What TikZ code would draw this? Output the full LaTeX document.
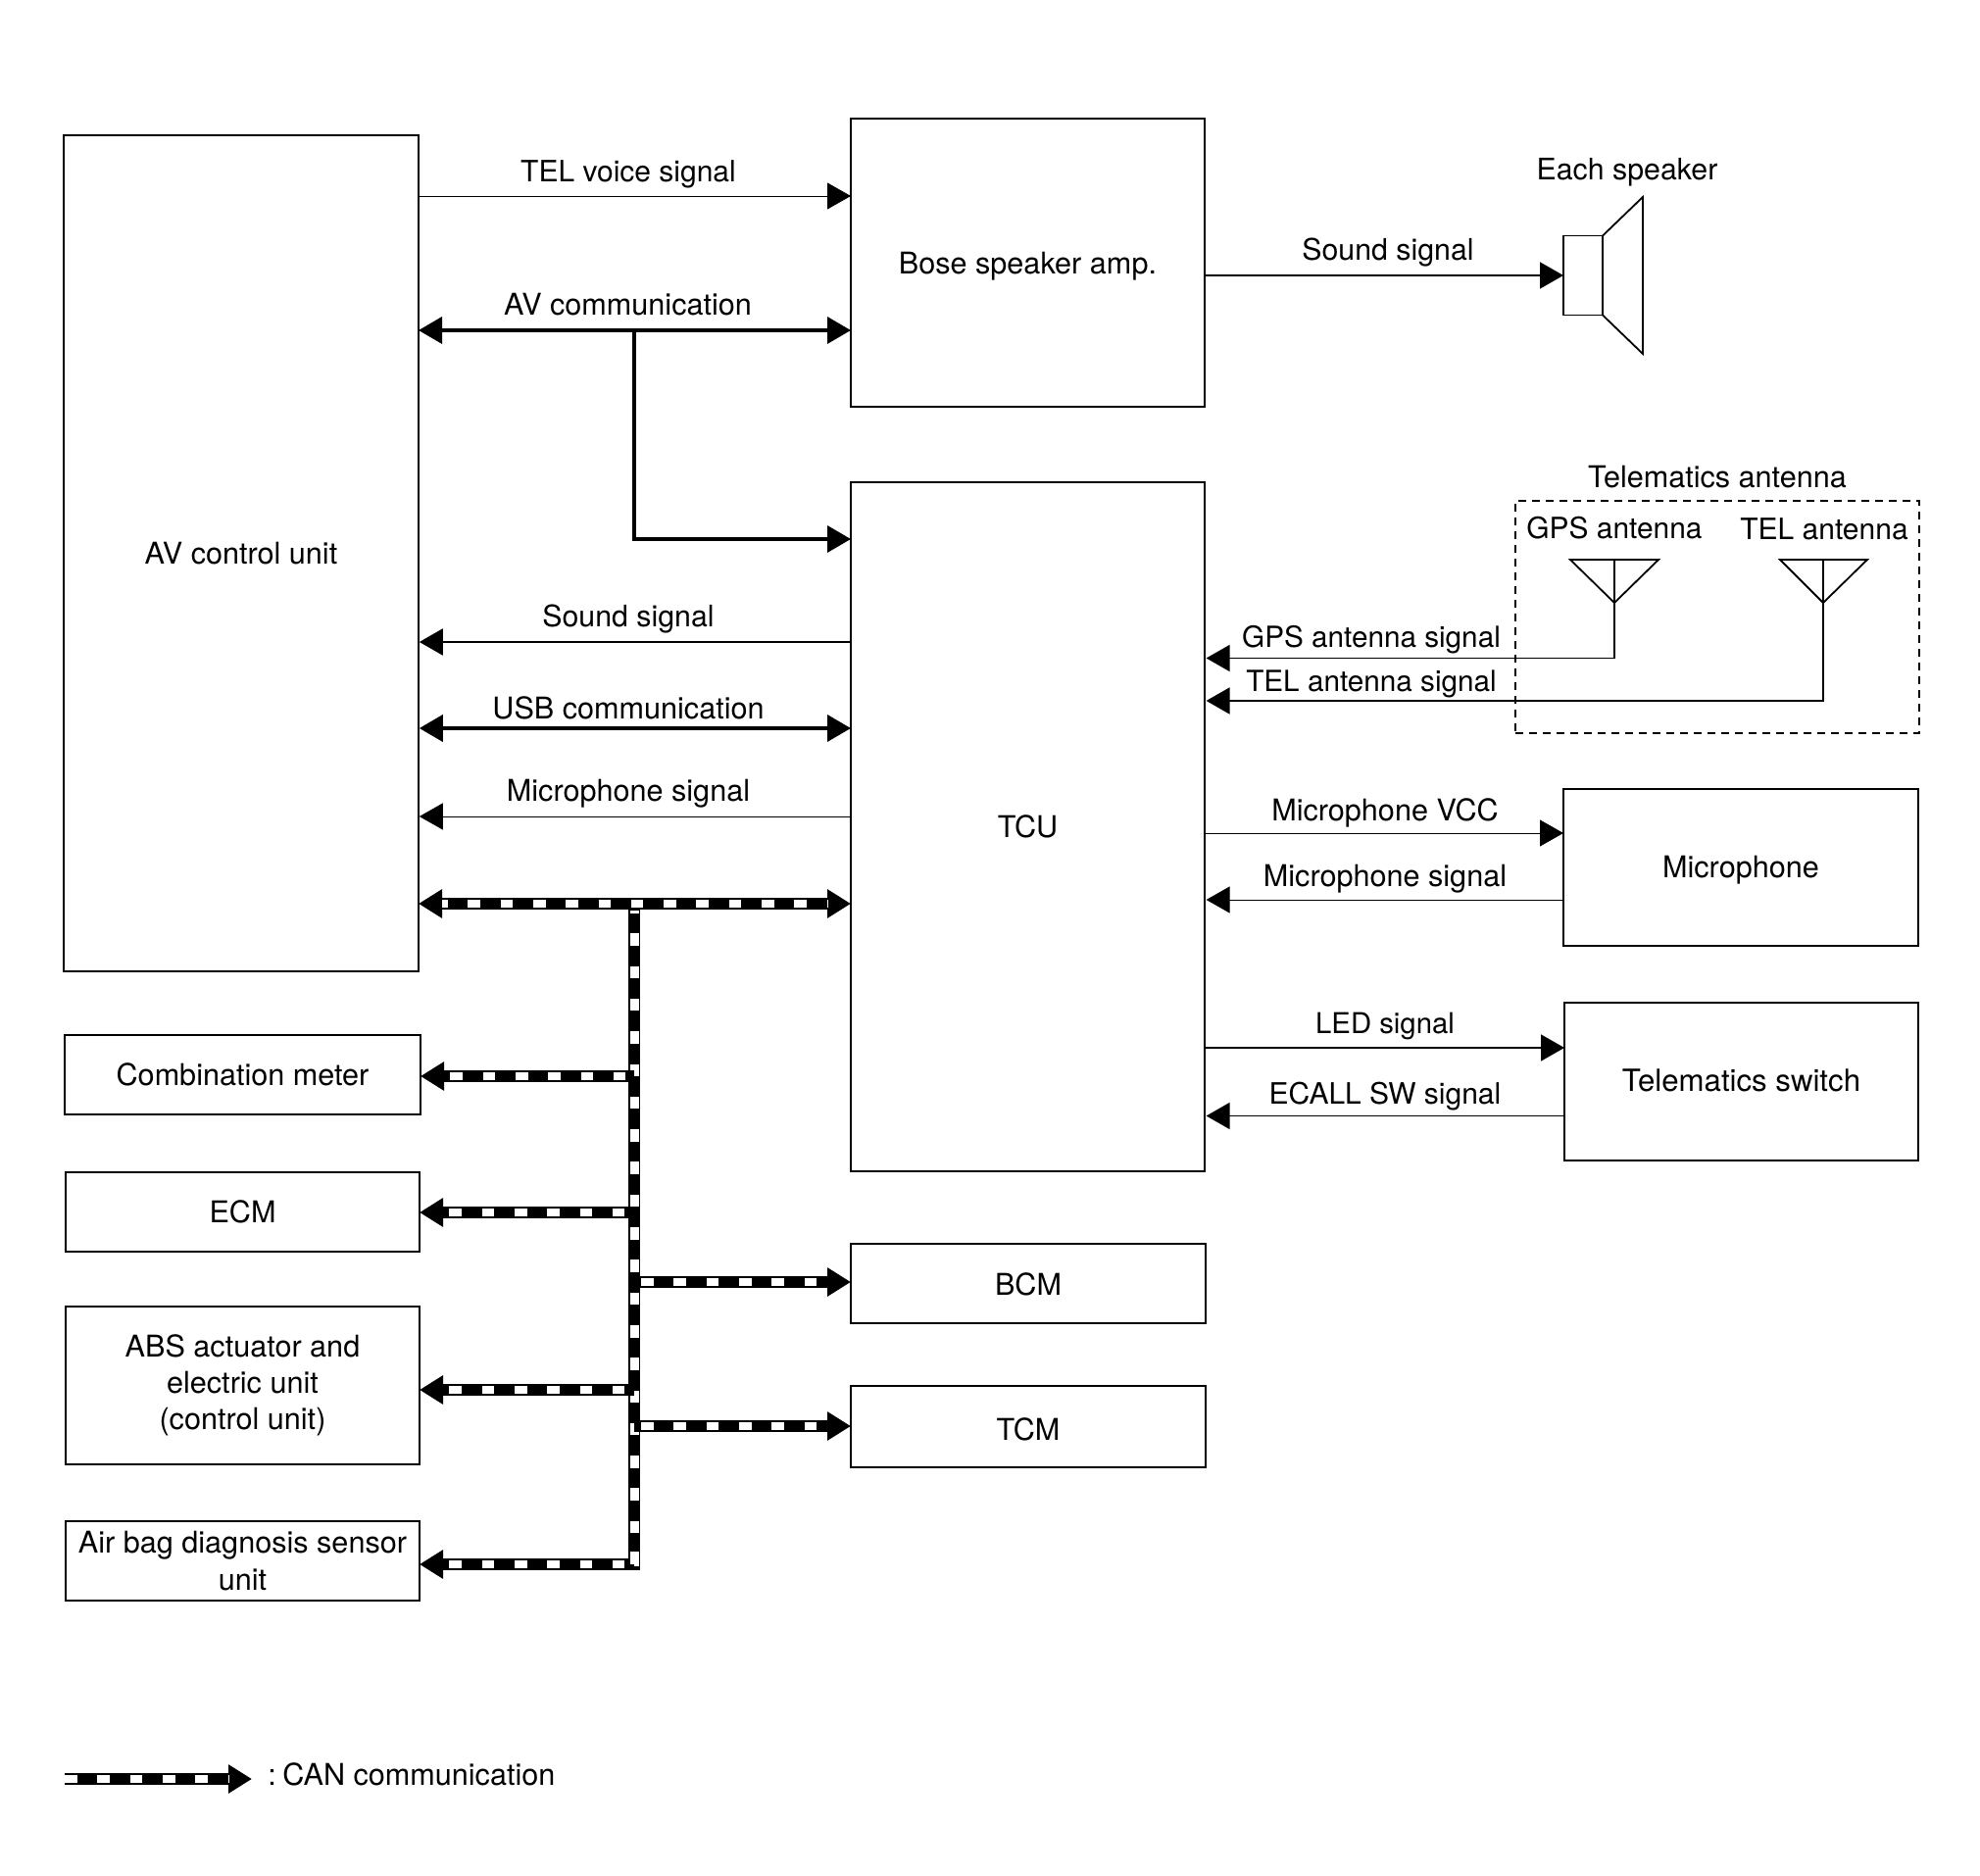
\documentclass[tikz,border=0pt]{standalone}
\usepackage{fontspec}
\setmainfont{TeX Gyre Heros}
\usetikzlibrary{arrows.meta}
\newcommand{\fz}[1]{\fontsize{#1}{18.6}\selectfont}
\newcommand{\drop}[2]{\raisebox{-#1}[0pt][0pt]{#2}}
\tikzset{
  x=0.5pt,y=-0.5pt,
  blockbox/.style={draw=black,line width=0.65pt,inner sep=0pt,outer sep=0pt,align=center,font=\fontsize{15.3}{18.6}\selectfont},
  lbl/.style={inner sep=0pt,anchor=base,font=\fontsize{15.3}{18.6}\selectfont},
  thinline/.style={line width=0.45pt,-{Triangle[length=12pt,width=13.5pt]}},
  thinback/.style={line width=0.45pt,{Triangle[length=12pt,width=13.5pt]}-},
  midline/.style={line width=0.9pt,-{Triangle[length=12pt,width=13.5pt]}},
  midback/.style={line width=0.9pt,{Triangle[length=12pt,width=13.5pt]}-},
  thickline/.style={line width=1.8pt},
  canfwd/.style={line width=6.4pt,-{Triangle[length=12pt,width=14pt]}},
  canback/.style={line width=6.4pt,{Triangle[length=12pt,width=14pt]}-},
  canboth/.style={line width=6.4pt,{Triangle[length=12pt,width=14pt]}-{Triangle[length=12pt,width=14pt]}},
  canplain/.style={line width=6.4pt},
  canwhite/.style={draw=white,line width=4.1pt,dash pattern=on 6.3pt off 10.35pt},
}
\newcommand{\blk}[6]{%
  \pgfmathsetmacro\cxx{(#2+#4)/2}\pgfmathsetmacro\cyy{(#3+#5)/2}%
  \node[blockbox,minimum width={(#4-#2)*0.5pt},minimum height={(#5-#3)*0.5pt}] (#1) at (\cxx,\cyy) {#6};}
\begin{document}
\begin{tikzpicture}
\useasboundingbox (0,0) rectangle (2020,1914);
\fill[white] (0,0) rectangle (2020,1914);
% blocks
\blk{av}{65}{138}{427}{991}{AV control unit}
\blk{bose}{868}{121}{1229}{415}{\drop{5.6pt}{Bose speaker amp.}}
\blk{tcu}{868}{492}{1229}{1195}{TCU}
\blk{cmb}{66}{1056}{429}{1137}{Combination meter}
\blk{ecm}{67}{1196}{428}{1277}{ECM}
\blk{abs}{67}{1333}{428}{1494}{ABS actuator and\\electric unit\\(control unit)}
\blk{bag}{67}{1552}{428}{1633}{Air bag diagnosis sensor\\unit}
\blk{bcm}{868}{1269}{1230}{1350}{\drop{6.1pt}{BCM}}
\blk{tcm}{868}{1414}{1230}{1497}{\drop{6.8pt}{TCM}}
\blk{mic}{1595}{805}{1957}{965}{\drop{5.3pt}{Microphone}}
\blk{sw}{1596}{1023}{1957}{1184}{\drop{5pt}{\fz{15.6}Telematics switch}}
% speaker
\node[draw=black,line width=0.9pt,inner sep=0pt,outer sep=0pt,minimum width=20pt,minimum height=40.5pt] (spk) at (1615,281) {};
\coordinate (conetop) at (1676,201);
\coordinate (conebot) at (1676,361);
\draw[line width=0.9pt,line join=miter] (spk.north east) -- (conetop) -- (conebot) -- (spk.south east);
% telematics antenna group
\node[draw=black,line width=0.75pt,dash pattern=on 4pt off 3pt,inner sep=0pt,minimum width=206pt,minimum height=118.5pt] (ant) at (1752,629.5) {};
\coordinate (gpsL) at (1602,571); \coordinate (gpsR) at (1692,571); \coordinate (gpsA) at (1647,615); \coordinate (gpsT) at (1647,571);
\coordinate (telL) at (1816,571); \coordinate (telR) at (1905,571); \coordinate (telA) at (1860,615); \coordinate (telT) at (1860,571);
\draw[line width=0.9pt] (gpsL) -- (gpsR) -- (gpsA) -- cycle;
\draw[line width=0.9pt] (telL) -- (telR) -- (telA) -- cycle;
\draw[line width=0.6pt] (gpsT) -- (gpsA);
\draw[line width=0.6pt] (telT) -- (telA);
\draw[midback] ([xshift=0.8pt]tcu.east |- 0,671.5) -- (gpsA |- 0,671.5) -- (gpsA);
\draw[midback] ([xshift=0.8pt]tcu.east |- 0,715) -- (telA |- 0,715) -- (telA);
% signals
\draw[thinline] (av.east |- 0,200) -- (bose.west |- 0,200);
\draw[midline] (bose.east |- spk.west) -- (spk.west);
\draw[thickline,{Triangle[length=12pt,width=13.5pt]}-{Triangle[length=12pt,width=13.5pt]}] (av.east |- 0,337) -- (bose.west |- 0,337);
\coordinate (avjoin) at (647,337);
\draw[thickline,-{Triangle[length=12pt,width=13.5pt]},line join=miter] (avjoin) -- (647,550) -- (tcu.west |- 0,550);
\draw[midback] ([xshift=0.4pt]av.east |- 0,655) -- (tcu.west |- 0,655);
\draw[thickline,{Triangle[length=12pt,width=13.5pt]}-{Triangle[length=12pt,width=13.5pt]}] ([xshift=0.4pt]av.east |- 0,743) -- (tcu.west |- 0,743);
\draw[thinback] ([xshift=0.4pt]av.east |- 0,833) -- (tcu.west |- 0,833);
\draw[thinline] (tcu.east |- 0,850) -- (mic.west |- 0,850);
\draw[thinback] ([xshift=0.8pt]tcu.east |- 0,918) -- (mic.west |- 0,918);
\draw[midline] (tcu.east |- 0,1069) -- (sw.west |- 0,1069);
\draw[midback] ([xshift=0.8pt]tcu.east |- 0,1138.5) -- (sw.west |- 0,1138.5);
% CAN trunk
\coordinate (trtop) at (647,922);
\coordinate (trbot) at (647,1602);
\draw[canplain] (trtop) -- (trbot);
\draw[canwhite,dash phase=5pt] (647.5,929) -- (647.5,1602);
% CAN branches to the left
\foreach \nm/\yy in {cmb/1098,ecm/1237,abs/1418,bag/1596}{
  \draw[canback] (\nm.east |- 0,\yy) -- (trtop |- 0,\yy);
  \draw[canwhite,dash phase=13.5pt,shorten <=12pt] (\nm.east |- 0,\yy) -- (640,\yy);
}
% CAN branches to the right
\foreach \nm/\yy in {bcm/1308,tcm/1455}{
  \draw[canfwd] (trtop |- 0,\yy) -- (\nm.west |- 0,\yy);
  \draw[canwhite,shorten >=12pt] (654,\yy) -- (\nm.west |- 0,\yy);
}
\draw[canwhite,dash phase=5pt] (647.5,1560) -- (647.5,1602);
% CAN bus AV--TCU
\draw[canboth] (av.east |- trtop) -- (tcu.west |- trtop);
\draw[canwhite,dash phase=3.5pt,shorten <=12pt,shorten >=12pt] (av.east |- trtop) -- (tcu.west |- trtop);
% legend
\coordinate (legA) at (66,1815);
\coordinate (legB) at (257,1815);
\draw[canfwd] (legA) -- (legB);
\draw[canwhite,shorten >=12pt] (legA) -- (legB);
% labels
\node[lbl] (l1) at (641,185.5) {\fz{15.0}TEL voice signal};
\node[lbl] (l2) at (640.5,322) {AV communication};
\node[lbl] (l3) at (641,640) {\fz{15.15}Sound signal};
\node[lbl] (l4) at (641,734) {USB communication};
\node[lbl] (l5) at (641,818) {Microphone signal};
\node[lbl] (l6) at (1416,266) {\fz{15.15}Sound signal};
\node[lbl] (l7) at (1660,183.5) {\fz{15.15}Each speaker};
\node[lbl] (l8) at (1752,498) {Telematics antenna};
\node[lbl] (l9) at (1647,550) {\fz{14.95}GPS antenna};
\node[lbl] (l10) at (1861,551) {\fz{15.0}TEL antenna};
\node[lbl] (l11) at (1399,661) {\fz{14.85}GPS antenna signal};
\node[lbl] (l12) at (1399,706) {\fz{14.85}TEL antenna signal};
\node[lbl] (l13) at (1413,838) {Microphone VCC};
\node[lbl] (l14) at (1413,905) {Microphone signal};
\node[lbl] (l15) at (1413,1055) {\fz{14.65}LED signal};
\node[lbl] (l16) at (1413,1126) {\fz{15.0}ECALL SW signal};
\node[lbl,anchor=base west] (l17) at (273,1821) {:\kern-2.4pt{} CAN communication};
\end{tikzpicture}
\end{document}
